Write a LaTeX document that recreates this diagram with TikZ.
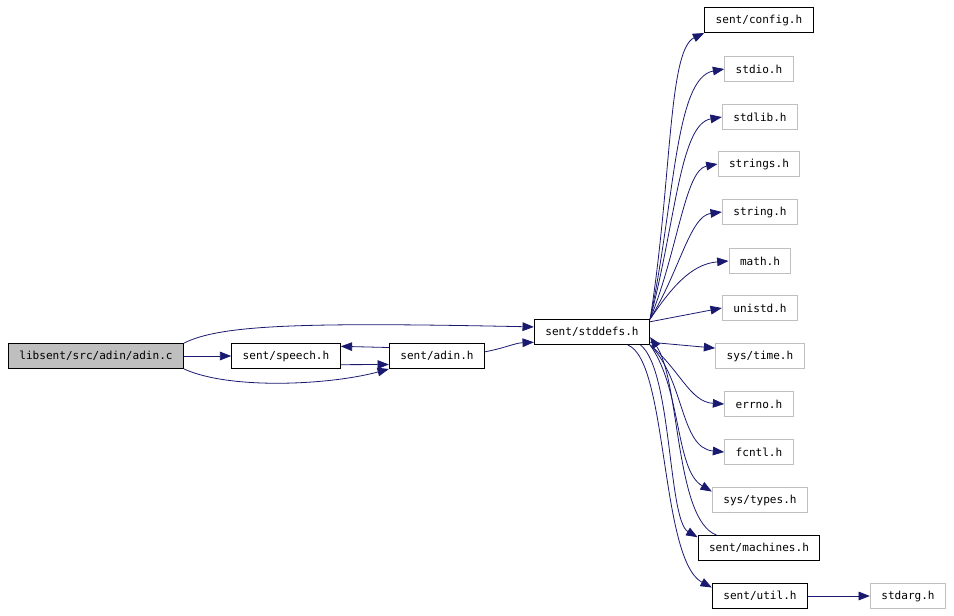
\documentclass[tikz,border=0pt]{standalone}
\usepackage{fontspec}
\setmonofont{DejaVu Sans Mono}
\usepackage{tikz}
\usetikzlibrary{arrows.meta}

\definecolor{edgeblue}{RGB}{25,25,112}
\definecolor{boxgray}{RGB}{191,191,191}

\tikzset{
  hdr/.style={draw=black,line width=0.75pt,fill=white,inner xsep=8.25pt,inner ysep=0pt,
    minimum height=18.75pt,font=\ttfamily\fontsize{8.3}{10}\selectfont},
  sys/.style={hdr,draw=boxgray},
  root/.style={hdr,fill=boxgray},
  dep/.style={draw=edgeblue,line width=0.6pt,-{Triangle[length=8.5pt,width=6.5pt]}}
}

\begin{document}
\begin{tikzpicture}[x=0.75pt,y=-0.75pt]
\useasboundingbox (0,0) rectangle (954,615);

\node[root] (ac) at (96,356) {libsent/src/adin/adin.c};
\node[hdr] (sp) at (286,356) {sent/speech.h};
\node[hdr] (ad) at (437,356) {sent/adin.h};
\node[hdr] (sd) at (592,332) {sent/stddefs.h};

\node[hdr] (cf) at (759,20) {sent/config.h};
\node[sys] (si) at (759,69) {stdio.h};
\node[sys] (sl) at (760,117) {stdlib.h};
\node[sys] (ss) at (759,164) {strings.h};
\node[sys] (sg) at (760,212) {string.h};
\node[sys] (ma) at (760,261) {math.h};
\node[sys] (un) at (760,308) {unistd.h};
\node[sys] (st) at (760,356) {sys/time.h};
\node[sys] (er) at (759,404) {errno.h};
\node[sys] (fc) at (759,452) {fcntl.h};
\node[sys] (ty) at (760,500) {sys/types.h};
\node[hdr] (mc) at (759,548) {sent/machines.h};
\node[hdr] (ut) at (760,596) {sent/util.h};
\node[sys] (sa) at (908,596) {stdarg.h};

\draw[dep] (ac) -- (sp);
\draw[dep] (ac.north east) .. controls (220,325) and (300,322) .. (sd.175);
\draw[dep] (ac.south east) .. controls (230,390) and (330,385) .. (ad.south west);
\draw[dep] (sp.-9) -- (ad.190);
\draw[dep] (ad.170) -- (sp.10);
\draw[dep] (ad.5) .. controls (505,348) and (515,343) .. (sd.190);

\draw[dep] (sd.north east) .. controls (672,180) and (668,50) .. (cf.south west);
\draw[dep] (sd.north east) .. controls (675,200) and (675,78) .. (si.west);
\draw[dep] (sd.north east) .. controls (676,220) and (680,124) .. (sl.west);
\draw[dep] (sd.north east) .. controls (678,250) and (685,170) .. (ss.west);
\draw[dep] (sd.north east) .. controls (680,270) and (690,216) .. (sg.west);
\draw[dep] (sd.north east) .. controls (670,290) and (690,264) .. (ma.west);
\draw[dep] (sd.10) -- (un.west);
\draw[dep] (sd.-10) -- (st.170);
\draw[dep] (sd.south east) .. controls (680,370) and (690,402) .. (er.west);
\draw[dep] (sd.south east) .. controls (685,380) and (680,448) .. (fc.west);
\draw[dep] (sd.south east) .. controls (682,390) and (675,470) .. (ty.170);
\draw[dep] (sd.-15) .. controls (672,370) and (668,520) .. (mc.170);
\draw[dep] (sd.-20) .. controls (668,360) and (660,560) .. (ut.170);
\draw[dep] (mc.163) .. controls (675,520) and (680,380) .. (sd.-5);
\draw[dep] (ut) -- (sa);

\end{tikzpicture}
\end{document}
